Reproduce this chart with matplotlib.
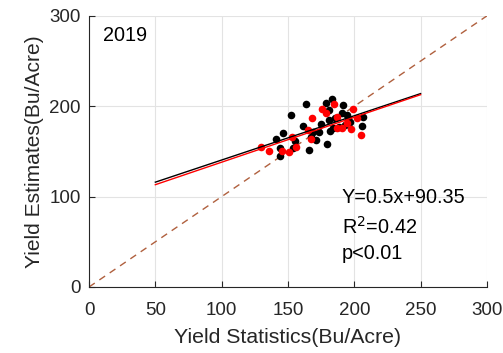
import numpy as np
import matplotlib.pyplot as plt

plt.rcParams['font.family'] = ['Liberation Sans', 'DejaVu Sans']

# black series (yield statistics, yield estimates)
black_x = [140.7, 146.2, 144.2, 144.0, 152.5, 161.6, 163.8, 155.5, 153.5, 166.1,
           167.3, 171.4, 173.6, 174.9, 178.6, 179.6, 181.2, 183.4, 181.2, 181.7,
           184.2, 188.4, 191.7, 191.0, 193.0, 194.2, 195.5, 196.7, 206.3, 205.8,
           185.4, 169.0]
black_y = [163.8, 170.8, 154.2, 144.6, 190.4, 178.2, 203.0, 161.3, 153.5, 151.3,
           166.4, 162.7, 172.0, 180.4, 203.3, 157.9, 196.0, 208.5, 184.9, 173.1,
           176.4, 177.5, 201.5, 192.3, 179.3, 190.4, 186.7, 183.0, 188.2, 178.6,
           186.7, 172.0]

# red series
red_x = [129.9, 135.7, 145.5, 151.0, 152.8, 156.0, 168.3, 167.3, 165.3, 175.6,
         178.6, 184.7, 187.2, 191.0, 197.7, 198.7, 202.2, 205.0, 186.7, 194.2]
red_y = [155.4, 150.9, 150.9, 149.8, 166.4, 155.4, 187.0, 163.5, 173.8, 197.0,
         192.3, 202.2, 187.8, 175.6, 175.3, 196.7, 186.7, 168.3, 176.0, 181.2]

# fitted lines (slope, intercept) drawn over 50..250
black_fit = (0.49, 91.5)
red_fit = (0.498, 88.3)
fit_range = [50, 250]

fig, ax = plt.subplots(figsize=(5.03, 3.53), dpi=100)
fig.subplots_adjust(left=0.177, right=0.968, top=0.955, bottom=0.187)

ax.plot([0, 300], [0, 300], ls=(0, (5, 4)), color='#b0603e', lw=1.0, zorder=1)
ax.scatter(black_x, black_y, s=30, color='black', zorder=3, linewidths=0)
ax.scatter(red_x, red_y, s=30, color='red', zorder=3, linewidths=0)

fx = np.array(fit_range)
ax.plot(fx, black_fit[0] * fx + black_fit[1], color='black', lw=1.0, zorder=4)
ax.plot(fx, red_fit[0] * fx + red_fit[1], color='red', lw=1.0, zorder=4)

ax.set_xlim(0, 300)
ax.set_ylim(0, 300)
ax.set_xticks(range(0, 301, 50))
ax.set_yticks(range(0, 301, 100))
ax.grid(True, color='#e3e3e3', lw=0.8)
ax.set_axisbelow(True)
for s in ['top', 'right']:
    ax.spines[s].set_visible(False)
for s in ['left', 'bottom']:
    ax.spines[s].set_color('#262626')
ax.tick_params(direction='in', length=4, colors='#262626', labelsize=13.5)
ax.tick_params(axis='x', pad=11)
ax.tick_params(axis='y', pad=6)

ax.set_xlabel('Yield Statistics(Bu/Acre)', fontsize=15.3, color='#262626', labelpad=6)
ax.set_ylabel('Yield Estimates(Bu/Acre)', fontsize=15.1, color='#262626', labelpad=4)

ax.text(0.035, 0.926, '2019', transform=ax.transAxes, fontsize=14.3, va='center')
ax.text(0.635, 0.33, 'Y=0.5x+90.35', transform=ax.transAxes, fontsize=14.3, va='center')
ax.text(0.635, 0.22, r'R$^2$=0.42', transform=ax.transAxes, fontsize=14.3, va='center')
ax.text(0.635, 0.125, 'p<0.01', transform=ax.transAxes, fontsize=14.3, va='center')

plt.savefig('out.png', dpi=100)
plt.close()
